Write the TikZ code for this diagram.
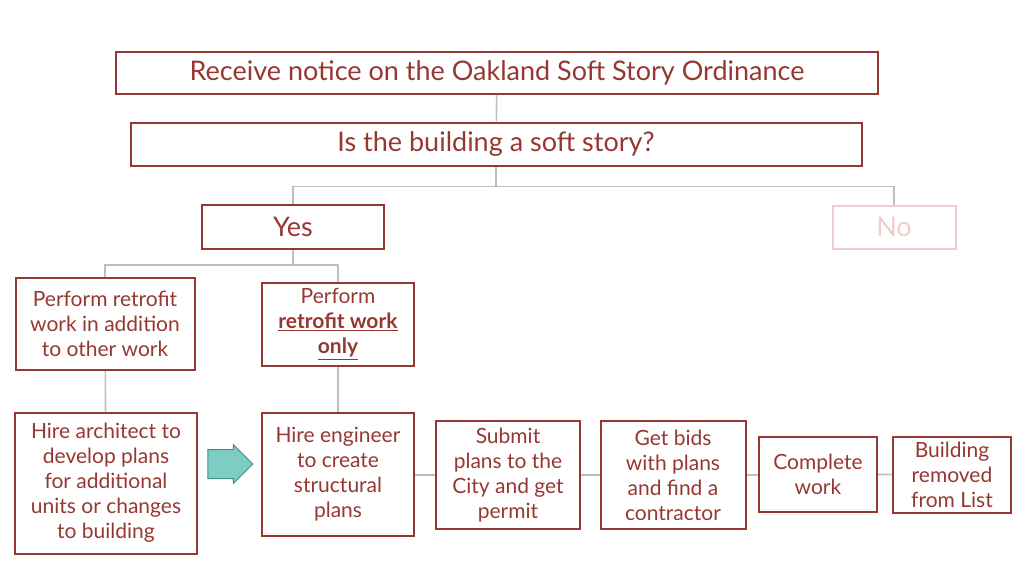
\documentclass[tikz,border=0pt]{standalone}
\usepackage{fontspec}
\setmainfont{Lato}
\usepackage{tikz}
\usetikzlibrary{positioning}
\usetikzlibrary{shapes,arrows}
\definecolor{brick}{RGB}{150,56,50}
\definecolor{faded}{RGB}{240,205,205}
\definecolor{wire}{RGB}{190,190,190}
\definecolor{tealfill}{RGB}{126,205,196}
\definecolor{tealedge}{RGB}{70,140,132}
\tikzset{%
  block/.style    = {draw=brick, line width=2pt, rectangle, text=brick,
    align=center, inner sep=0pt},
  wide/.style     = {block, font=\fontsize{27}{30}\selectfont}, % Top boxes
  small/.style    = {block, font=\fontsize{21}{25}\selectfont}, % Step boxes
  link/.style     = {draw=wire, line width=1.6pt}
}

\begin{document}
\begin{tikzpicture}[x=1pt, y=-1pt]
  \useasboundingbox (0,0) rectangle (1024,576);

  \draw node at (497,73) [wide, minimum width=762pt, minimum height=42pt] (notice) {Receive notice on the Oakland Soft Story Ordinance};
  \draw node at (496,144) [wide, minimum width=731pt, minimum height=43pt] (soft) {Is the building a soft story?};
  \draw node at (293,227) [wide, minimum width=182pt, minimum height=44pt] (yes) {Yes};
  \draw node at (894,227) [wide, draw=faded, text=faded, minimum width=123pt, minimum height=43pt] (no) {No};

  \draw node at (105,324) [small, minimum width=179pt, minimum height=92pt] (both) {Perform retrofit\\work in addition\\to other work};
  \draw node at (338,324) [small, minimum width=152pt, minimum height=83pt] (only) {Perform\\\underline{\textbf{retrofit work}}\\\underline{\textbf{only}}};

  \draw node at (106,483) [small, minimum width=182pt, minimum height=141pt] (architect) {Hire architect to\\develop plans\\for additional\\units or changes\\to building};
  \draw node at (338,474) [small, minimum width=152pt, minimum height=123pt] (engineer) {Hire engineer\\to create\\structural\\plans};
  \draw node at (508,475) [small, minimum width=144pt, minimum height=108pt] (submit) {Submit\\plans to the\\City and get\\permit};
  \draw node at (673,475) [small, minimum width=145pt, minimum height=108pt] (bids) {Get bids\\with plans\\and find a\\contractor};
  \draw node at (818,474) [small, minimum width=118pt, minimum height=75pt] (complete) {Complete\\work};
  \draw node at (952,475) [small, minimum width=118pt, minimum height=76pt] (removed) {Building\\removed\\from List};

  % tree lines
  \draw[link] (notice) -- (soft);
  \draw[link] (soft.south) -- ++(0,20) coordinate (split) -| (yes.north);
  \draw[link] (split) -| (no.north);
  \draw[link] (yes.south) -- ++(0,15) coordinate (fork) -| (both.north);
  \draw[link] (fork) -| (only.north);
  \draw[link] (both) -- (architect);
  \draw[link] (only) -- (engineer);

  % step chain
  \draw[link] (engineer.east |- submit.west) -- (submit.west);
  \draw[link] (submit) -- (bids);
  \draw[link] (bids.east) -- (complete.west |- bids.east);
  \draw[link] (complete) -- (removed);

  % block arrow
  \draw node at (223,464) [single arrow, draw=tealedge, fill=tealfill, line width=1pt,
    minimum height=45pt, single arrow head extend=5pt,
    inner xsep=0pt, inner ysep=14pt] (swap) {};
\end{tikzpicture}
\end{document}
